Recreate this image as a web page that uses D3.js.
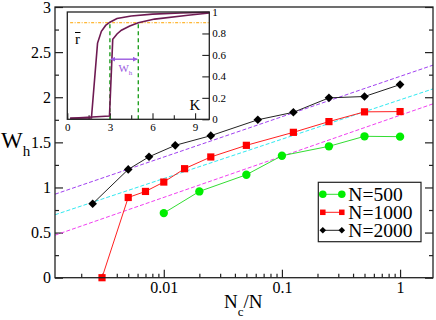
<!DOCTYPE html>
<html>
<head>
<meta charset="utf-8">
<script src="https://cdn.jsdelivr.net/npm/d3@7"></script>
<style>
body { margin: 0; background: #fff; }
svg text { font-family: "Liberation Serif", "Times New Roman", serif; }
</style>
</head>
<body>
<div id="chart"></div>
<script>
// main panel data: W_h vs Nc/N
var ratio500 = [0.01, 0.02, 0.05, 0.1, 0.25, 0.5, 1];
var wh500 = [0.716, 0.956, 1.141, 1.352, 1.456, 1.567, 1.563];
var ratio1000 = [0.003, 0.005, 0.007, 0.01, 0.015, 0.025, 0.05, 0.125, 0.25, 0.5, 1];
var wh1000 = [0, 0.889, 0.956, 1.06, 1.208, 1.338, 1.467, 1.611, 1.73, 1.838, 1.841];
var ratio2000 = [0.0025, 0.005, 0.0075, 0.0125, 0.025, 0.0625, 0.125, 0.25, 0.5, 1];
var wh2000 = [0.82, 1.20, 1.34, 1.467, 1.574, 1.75, 1.833, 1.993, 2.008, 2.14];
var seriesNames = ["N=500", "N=1000", "N=2000"];

// dashed fits  W = a + b*log10(Nc/N)
var fitColors = ["#a040f0", "#30e8f0", "#f040f0"];
var fitIntercept = [2.231, 1.971, 1.80];
var fitSlope = [0.447, 0.436, 0.455];

var xTickValues = [0.01, 0.1, 1];
var xTickLabels = ["0.01", "0.1", "1"];
var yTickValues = [0, 0.5, 1, 1.5, 2, 2.5, 3];
var yTickLabels = ["0", "0.5", "1", "1.5", "2", "2.5", "3"];

// inset data: r vs K
var k1 = [0.2, 1.7, 2.13, 2.4, 2.7, 3.0, 3.5, 4.5, 6, 8, 10];
var r1 = [0.01, 0.012, 0.71, 0.82, 0.875, 0.905, 0.94, 0.963, 0.98, 0.99, 0.997];
var k2 = [0.2, 2.97, 3.2, 3.5, 3.81, 4.4, 5.0, 6.15, 8.5, 10];
var r2 = [0.01, 0.03, 0.745, 0.795, 0.83, 0.87, 0.9, 0.934, 0.97, 0.99];
var rThreshold = 0.9;
var kLow = 3, kHigh = 5;
var insetXTicks = [0, 3, 6, 9];
var insetXMinor = [1.5, 4.5, 7.5];
var insetYTicks = [0, 0.2, 0.4, 0.6, 0.8, 1];
var insetYLabels = ["0", "0.2", "0.4", "0.6", "0.8", "1"];

var W = 436, H = 320;
var margin = {top: 7, right: 3, bottom: 42.3, left: 55};
var width = W - margin.left - margin.right,
    height = H - margin.top - margin.bottom;

var svg = d3.select("#chart").append("svg")
    .attr("width", W)
    .attr("height", H);

var defs = svg.append("defs");
defs.append("marker")
    .attr("id", "arrow")
    .attr("viewBox", "0 0 10 10")
    .attr("refX", 9).attr("refY", 5)
    .attr("markerWidth", 5).attr("markerHeight", 5)
    .attr("markerUnits", "userSpaceOnUse")
    .attr("orient", "auto-start-reverse")
    .append("path")
    .attr("d", "M0,0 L10,5 L0,10 z")
    .attr("fill", "#9a5ae0");

var g = svg.append("g")
    .attr("transform", `translate(${margin.left},${margin.top})`);

//scales
var x = d3.scaleLog().domain([0.0012, 1.9]).range([0, width]);
var y = d3.scaleLinear().domain([0, 3]).range([height, 0]);

var xMinor = [];
[0.001, 0.01, 0.1, 1].forEach(function(d){
    for (var m = 2; m <= 9; m++) {
        var v = d * m;
        if (v > x.domain()[0] && v < x.domain()[1]) xMinor.push(v);
    }
});
var yMinor = [0.25, 0.75, 1.25, 1.75, 2.25, 2.75];

//axes
g.append("g")
    .attr("transform", `translate(0,${height})`)
    .call(d3.axisBottom(x).tickValues(xMinor).tickFormat("").tickSize(-4))
    .call(function(s){ s.select(".domain").remove(); });
g.append("g")
    .attr("transform", `translate(0,${height})`)
    .call(d3.axisBottom(x).tickValues(xTickValues)
        .tickFormat(function(d, i){ return xTickLabels[i]; })
        .tickSize(-8).tickPadding(4))
    .call(function(s){ s.select(".domain").remove(); })
    .selectAll("text").style("font-size", "16px").attr("fill", "#000");

g.append("g")
    .call(d3.axisLeft(y).tickValues(yMinor).tickFormat("").tickSize(-4))
    .call(function(s){ s.select(".domain").remove(); });
g.append("g")
    .call(d3.axisLeft(y).tickValues(yTickValues)
        .tickFormat(function(d, i){ return yTickLabels[i]; })
        .tickSize(-8).tickPadding(4))
    .call(function(s){ s.select(".domain").remove(); })
    .selectAll("text").style("font-size", "16px").attr("fill", "#000");

g.append("g")
    .attr("transform", `translate(${width},0)`)
    .call(d3.axisRight(y).tickValues(yMinor).tickFormat("").tickSize(-4))
    .call(function(s){ s.select(".domain").remove(); });
g.append("g")
    .attr("transform", `translate(${width},0)`)
    .call(d3.axisRight(y).tickValues(yTickValues).tickFormat("").tickSize(-8))
    .call(function(s){ s.select(".domain").remove(); });

g.selectAll(".tick line").attr("stroke", "#222").attr("stroke-width", 1.2);

//fit lines
var clip = defs.append("clipPath").attr("id", "plotclip");
clip.append("rect").attr("width", width).attr("height", height);

var fitGroup = g.append("g").attr("clip-path", "url(#plotclip)");
fitColors.forEach(function(c, i){
    var xs = x.domain();
    fitGroup.append("line")
        .attr("x1", x(xs[0]))
        .attr("y1", y(fitIntercept[i] + fitSlope[i] * Math.log10(xs[0])))
        .attr("x2", x(xs[1]))
        .attr("y2", y(fitIntercept[i] + fitSlope[i] * Math.log10(xs[1])))
        .attr("stroke", c)
        .attr("stroke-width", 1)
        .attr("stroke-dasharray", "4,2");
});

//series
var series = [
    {name: seriesNames[0], xs: ratio500, ys: wh500, color: "#00ee00", line: "#33dd33", shape: "circle"},
    {name: seriesNames[1], xs: ratio1000, ys: wh1000, color: "#ff0000", line: "#ff2020", shape: "square"},
    {name: seriesNames[2], xs: ratio2000, ys: wh2000, color: "#000000", line: "#222222", shape: "diamond"}
];

var line = d3.line()
    .x(function(d){ return x(d[0]); })
    .y(function(d){ return y(d[1]); });

function drawMarker(sel, shape, color, size) {
    if (shape == "circle") {
        sel.append("circle").attr("r", size * 0.58).attr("fill", color);
    } else if (shape == "square") {
        sel.append("rect")
            .attr("x", -size / 2).attr("y", -size / 2)
            .attr("width", size).attr("height", size)
            .attr("fill", color);
    } else {
        var s = size * 0.6;
        sel.append("path")
            .attr("d", `M0,${-s} L${s},0 L0,${s} L${-s},0 Z`)
            .attr("fill", color);
    }
}

series.forEach(function(s){
    var pts = s.xs.map(function(v, i){ return [v, s.ys[i]]; });
    g.append("path")
        .datum(pts)
        .attr("d", line)
        .attr("fill", "none")
        .attr("stroke", s.line)
        .attr("stroke-width", 1);
    g.selectAll(null)
        .data(pts)
        .enter()
        .append("g")
        .attr("transform", function(d){ return `translate(${x(d[0])},${y(d[1])})`; })
        .each(function(){ drawMarker(d3.select(this), s.shape, s.color, 7.2); });
});

//frame
g.append("rect")
    .attr("width", width).attr("height", height)
    .attr("fill", "none")
    .attr("stroke", "#222")
    .attr("stroke-width", 1.3);

//legend
var legend = g.append("g").attr("transform", `translate(${318.3 - margin.left},${182.3 - margin.top})`);
legend.append("rect")
    .attr("width", 102.7).attr("height", 59.4)
    .attr("fill", "#fff")
    .attr("stroke", "#222")
    .attr("stroke-width", 1.2);
series.forEach(function(s, i){
    var ly = 12 + i * 18;
    legend.append("line")
        .attr("x1", 4.5).attr("x2", 23.5)
        .attr("y1", ly).attr("y2", ly)
        .attr("stroke", s.line).attr("stroke-width", 1);
    [4.5, 23.5].forEach(function(lx){
        drawMarker(legend.append("g").attr("transform", `translate(${lx},${ly})`), s.shape, s.color, s.shape == "circle" ? 6.5 : 5.5);
    });
    legend.append("text")
        .attr("x", 30).attr("y", ly + 7)
        .style("font-size", "19.5px")
        .text(s.name);
});

//axis titles
var wl = svg.append("text").attr("x", 1).attr("y", 148).style("font-size", "23px");
wl.append("tspan").text("W");
wl.append("tspan").attr("dy", 8).style("font-size", "15px").text("h");

var nl = svg.append("text").attr("x", 224).attr("y", 308).style("font-size", "19px");
nl.append("tspan").text("N");
nl.append("tspan").attr("dy", 8).style("font-size", "13px").text("c");
nl.append("tspan").attr("dy", -8).text("/N");

//inset
var ins = {left: 67.3, top: 12, right: 209.3, bottom: 119.3};
var ig = svg.append("g").attr("transform", `translate(${ins.left},${ins.top})`);
var iw = ins.right - ins.left, ih = ins.bottom - ins.top;
var xk = d3.scaleLinear().domain([0, 10]).range([0, iw]);
var yr = d3.scaleLinear().domain([0, 1]).range([ih, 0]);

ig.append("rect").attr("width", iw).attr("height", ih).attr("fill", "#fff");

ig.append("g")
    .attr("transform", `translate(0,${ih})`)
    .call(d3.axisBottom(xk).tickValues(insetXMinor).tickFormat("").tickSize(-4))
    .call(function(s){ s.select(".domain").remove(); });
ig.append("g")
    .attr("transform", `translate(0,${ih})`)
    .call(d3.axisBottom(xk).tickValues(insetXTicks).tickFormat(d3.format("d")).tickSize(-6).tickPadding(4))
    .call(function(s){ s.select(".domain").remove(); })
    .selectAll("text").style("font-size", "11px").attr("fill", "#000");
ig.append("g")
    .attr("transform", `translate(${iw},0)`)
    .call(d3.axisRight(yr).tickValues(insetYTicks)
        .tickFormat(function(d, i){ return insetYLabels[i]; })
        .tickSize(-7).tickPadding(3))
    .call(function(s){ s.select(".domain").remove(); })
    .selectAll("text").style("font-size", "11px").attr("fill", "#000");
ig.selectAll(".tick line").attr("stroke", "#222").attr("stroke-width", 1.1);

var kline = d3.line()
    .x(function(d){ return xk(d[0]); })
    .y(function(d){ return yr(d[1]); });

// threshold line
ig.append("line")
    .attr("x1", xk(0.2)).attr("x2", iw)
    .attr("y1", yr(rThreshold)).attr("y2", yr(rThreshold))
    .attr("stroke", "#ffa500").attr("stroke-width", 1)
    .attr("stroke-dasharray", "3,1.5,1,1.5");

[kLow, kHigh].forEach(function(k){
    ig.append("line")
        .attr("x1", xk(k)).attr("x2", xk(k))
        .attr("y1", ih).attr("y2", yr(rThreshold))
        .attr("stroke", "#22a022").attr("stroke-width", 1.4)
        .attr("stroke-dasharray", "4,3");
});

[[k1, r1], [k2, r2]].forEach(function(c){
    var pts = c[0].map(function(v, i){ return [v, c[1][i]]; });
    ig.append("path")
        .datum(pts)
        .attr("d", kline)
        .attr("fill", "none")
        .attr("stroke", "#6e1a52")
        .attr("stroke-width", 1.6);
});

// W_h arrow
ig.append("line")
    .attr("x1", xk(kLow) + 1).attr("x2", xk(kHigh) - 1)
    .attr("y1", yr(0.56)).attr("y2", yr(0.56))
    .attr("stroke", "#9a5ae0").attr("stroke-width", 1.4)
    .attr("marker-start", "url(#arrow)")
    .attr("marker-end", "url(#arrow)");
var wh = ig.append("text")
    .attr("x", xk(3.6)).attr("y", yr(0.445))
    .attr("fill", "#9a5ae0")
    .style("font-size", "11px");
wh.append("tspan").text("W");
wh.append("tspan").attr("dy", 3).style("font-size", "7px").text("h");

ig.append("rect")
    .attr("width", iw).attr("height", ih)
    .attr("fill", "none")
    .attr("stroke", "#222")
    .attr("stroke-width", 1.3);

// inset labels
ig.append("text").attr("x", 75 - ins.left).attr("y", 43.5 - ins.top)
    .style("font-size", "15px").text("r");
ig.append("line")
    .attr("x1", 75 - ins.left).attr("x2", 80.5 - ins.left)
    .attr("y1", 32.5 - ins.top).attr("y2", 32.5 - ins.top)
    .attr("stroke", "#000").attr("stroke-width", 1);
ig.append("text").attr("x", 189.5 - ins.left).attr("y", 110 - ins.top)
    .style("font-size", "15px").text("K");
</script>
</body>
</html>
